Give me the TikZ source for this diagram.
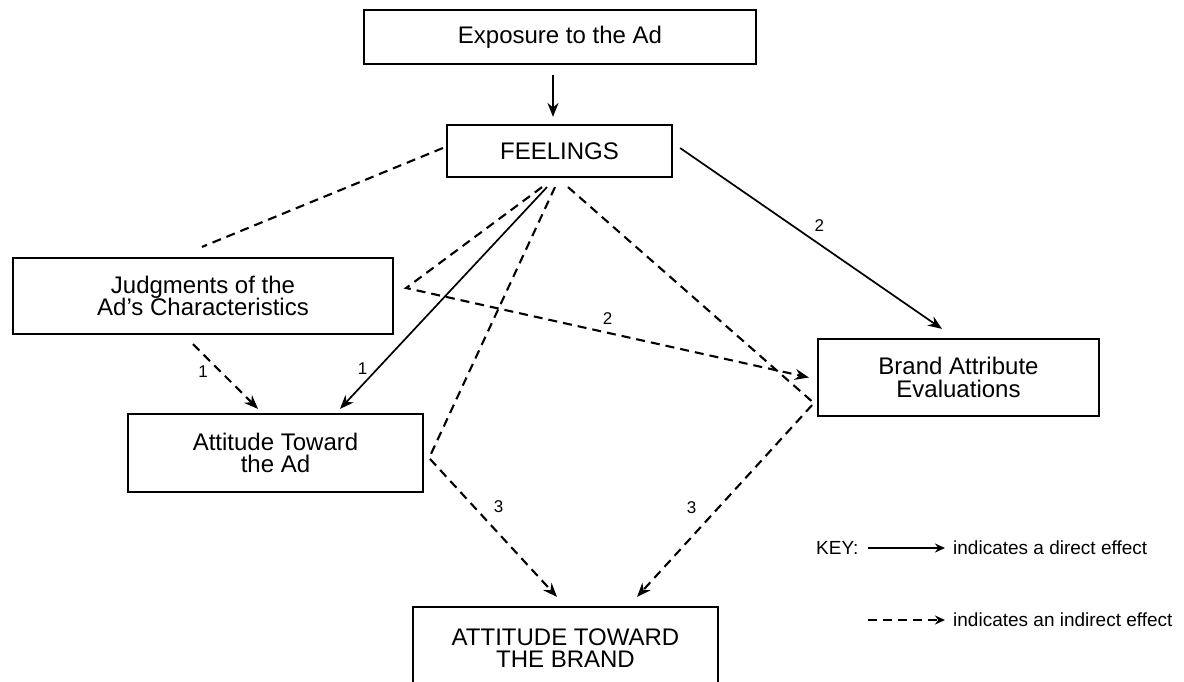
\documentclass[tikz,border=0pt]{standalone}
\usepackage{fontspec}
\setmainfont{Liberation Sans}
\usetikzlibrary{arrows.meta}

\begin{document}
\begin{tikzpicture}[x=1pt, y=-1pt,
        box/.style={draw, line width=2.2pt, align=center, inner sep=0pt, font=\fontsize{24}{22.5}\selectfont},
        direct/.style={line width=1.7pt, -{Stealth[length=14pt, width=11pt]}},
        indirect/.style={direct, line width=2.1pt, dash pattern=on 9pt off 6pt},
        link/.style={line width=2.1pt, dash pattern=on 9pt off 6pt},
        num/.style={font=\fontsize{17}{17}\selectfont, inner sep=1pt},
        keytext/.style={font=\fontsize{19}{19}\selectfont, anchor=west, inner sep=0pt}]
        \useasboundingbox (0,0) rectangle (1184,681);
        \clip (0,0) rectangle (1184,681);

        % Draw the boxes
        \node[box, minimum width=392pt, minimum height=54pt] (expo) at (560,37) {Exposure to the Ad};
        \node[box, minimum width=225pt, minimum height=52pt] (feel) at (559.5,151) {FEELINGS};
        \node[box, minimum width=380pt, minimum height=76pt] (judg) at (203,296) {Judgments of the\\Ad's Characteristics};
        \node[box, minimum width=295pt, minimum height=78pt] (attad) at (275.5,453) {Attitude Toward\\the Ad};
        \node[box, minimum width=281pt, minimum height=77pt] (brand) at (958.5,377.5) {Brand Attribute\\Evaluations};
        \node[box, minimum width=305pt, minimum height=82pt] (attbr) at (565.5,648) {ATTITUDE TOWARD\\THE BRAND};

        % Bend points beside the middle boxes
        \coordinate (jbend) at ([xshift=12pt, yshift=8pt]judg.east);  % right of judgments
        \coordinate (abend) at ([xshift=5pt, yshift=-5pt]attad.east);  % right of ad attitude
        \coordinate (bbend) at ([xshift=-3pt, yshift=14pt]brand.south west);  % left of brand box

        % Exposure leads to feelings
        \draw[direct] ([xshift=-7pt, yshift=-10pt]expo.south) -- ([xshift=-6.5pt, yshift=7pt]feel.north);

        % Dashed line up to the judgments box
        \draw[link] ([xshift=-3pt, yshift=3pt]feel.west) -- ([xshift=-1pt, yshift=10pt]judg.north);

        % Indirect effects from feelings
        \draw[indirect] ([xshift=-17.5pt, yshift=-9pt]feel.south) -- (jbend)
            -- node[num, pos=0.5, above=6pt] {2} ([xshift=-8pt]brand.west);
        \draw[indirect] ([xshift=-4.5pt, yshift=-9pt]feel.south) -- (abend)
            -- node[num, pos=0.35, right=18pt] {3} ([xshift=-8.5pt, yshift=9pt]attbr.north);
        \draw[indirect] ([xshift=8.5pt, yshift=-9pt]feel.south) -- (bbend)
            -- node[num, pos=0.54, left=20pt] {3} ([xshift=71.5pt, yshift=9pt]attbr.north);
        \draw[indirect] ([xshift=-10pt, yshift=-9pt]judg.south)
            -- node[num, pos=0.43, left=11pt] {1} ([xshift=-17.5pt, yshift=4pt]attad.north);

        % Direct effects from feelings
        \draw[direct] ([xshift=-12.5pt, yshift=-9pt]feel.south)
            -- node[num, pos=0.82, left=8pt] {1} ([xshift=64.5pt, yshift=4pt]attad.north);
        \draw[direct] ([xshift=7pt, yshift=3pt]feel.east)
            -- node[num, pos=0.43, right=20pt] {2} ([xshift=-16.5pt, yshift=9pt]brand.north);

        % Key
        \node[keytext] (key) at (816,548) {KEY:};
        \node[keytext] (dirtxt) at (953,548) {indicates a direct effect};
        \node[keytext] (indtxt) at (953,620) {indicates an indirect effect};
        \draw[direct, -{Stealth[length=10pt, width=9pt]}] ([xshift=-85pt]dirtxt.west) -- ([xshift=-8pt]dirtxt.west);
        \draw[indirect, -{Stealth[length=10pt, width=9pt]}] ([xshift=-85pt]indtxt.west) -- ([xshift=-8pt]indtxt.west);
    \end{tikzpicture}
\end{document}
